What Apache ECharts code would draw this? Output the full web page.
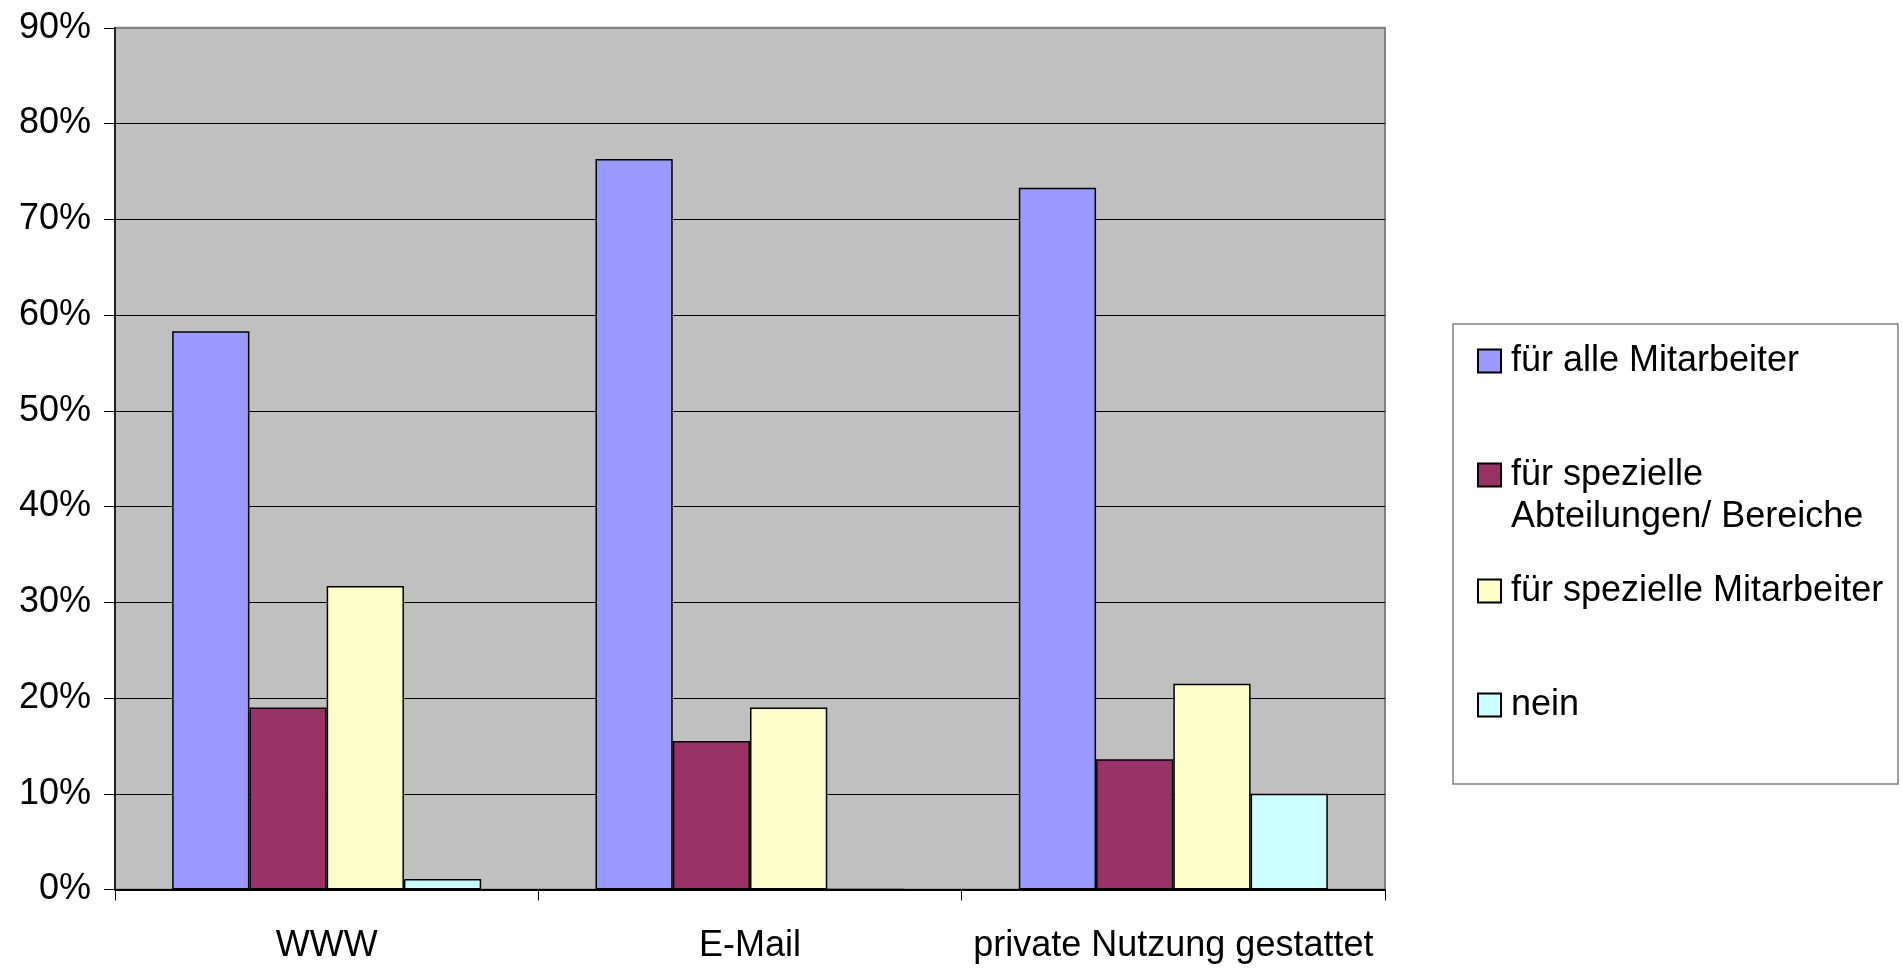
<!DOCTYPE html>
<html>
<head>
<meta charset="utf-8">
<script src="https://cdn.jsdelivr.net/npm/echarts@6/dist/echarts.min.js"></script>
<style>
html,body{margin:0;padding:0;background:#fff;}
#chart{width:1903px;height:971px;}
</style>
</head>
<body>
<div id="chart"></div>
<script>
const categories = ['WWW', 'E-Mail', 'private Nutzung gestattet'];
const seriesNames = ['für alle Mitarbeiter', 'für spezielle Abteilungen/ Bereiche', 'für spezielle Mitarbeiter', 'nein'];
const allStaff = [58.3, 76.3, 73.3];
const departments = [19.0, 15.5, 13.6];
const specialStaff = [31.7, 19.0, 21.5];
const none = [1.1, 0, 10.0];
const yTicks = [0, 10, 20, 30, 40, 50, 60, 70, 80, 90];

const colors = ['#9999FF', '#993366', '#FFFFCC', '#CCFFFF'];
const values = [allStaff, departments, specialStaff, none];
const font = "'Liberation Sans', Arial, sans-serif";

const chart = echarts.init(document.getElementById('chart'));

const legendTops = [340, 412, 570, 684];
const legends = seriesNames.map((n, i) => ({
  show: true,
  orient: 'vertical',
  left: 1477,
  top: legendTops[i],
  padding: 0,
  itemWidth: 23,
  itemHeight: 23,
  icon: 'rect',
  selectedMode: false,
  data: [n],
  formatter: function (name) {
    return name === seriesNames[1] ? '\nfür spezielle\nAbteilungen/ Bereiche' : name;
  },
  itemStyle: { borderColor: '#000', borderWidth: 2 },
  textStyle: {
    fontFamily: font,
    fontSize: 36,
    color: '#000',
    lineHeight: 42,
    padding: [0, 0, 0, 5]
  }
}));

const splitColors = yTicks.map((v, i) => i === yTicks.length - 1 ? '#808080' : '#000');

chart.setOption({
  animation: false,
  backgroundColor: '#fff',
  grid: {
    left: 115, right: 518, top: 27.75, bottom: 81.5,
    show: true, backgroundColor: '#C0C0C0', borderColor: '#808080', borderWidth: 2,
    outerBoundsMode: 'none'
  },
  graphic: [{
    type: 'rect', z: -1,
    shape: { x: 1453, y: 324, width: 445, height: 460 },
    style: { fill: '#fff', stroke: '#808080', lineWidth: 1.5 }
  }],
  legend: legends,
  xAxis: {
    type: 'category',
    data: categories,
    axisLine: { show: true, lineStyle: { color: '#000', width: 2 } },
    axisTick: { show: true, length: 11, lineStyle: { color: '#000', width: 1 } },
    axisLabel: { interval: 0, hideOverlap: false, fontFamily: font, fontSize: 36, color: '#000', margin: 39 },
    splitLine: { show: false }
  },
  yAxis: {
    type: 'value',
    min: 0, max: 90, interval: 10,
    axisLine: { show: true, lineStyle: { color: '#000', width: 1.5 } },
    axisTick: { show: true, length: 11, lineStyle: { color: '#000', width: 1 } },
    axisLabel: { fontFamily: font, fontSize: 36, color: '#000', margin: 24, formatter: '{value}%' },
    splitLine: { show: true, lineStyle: { color: splitColors, width: 1.2 } }
  },
  series: seriesNames.map((n, i) => ({
    name: n,
    type: 'bar',
    data: values[i],
    barGap: '0%',
    barCategoryGap: '27%',
    itemStyle: { color: colors[i], borderColor: '#000', borderWidth: 1.5 },
    emphasis: { disabled: true }
  }))
});
</script>
</body>
</html>
